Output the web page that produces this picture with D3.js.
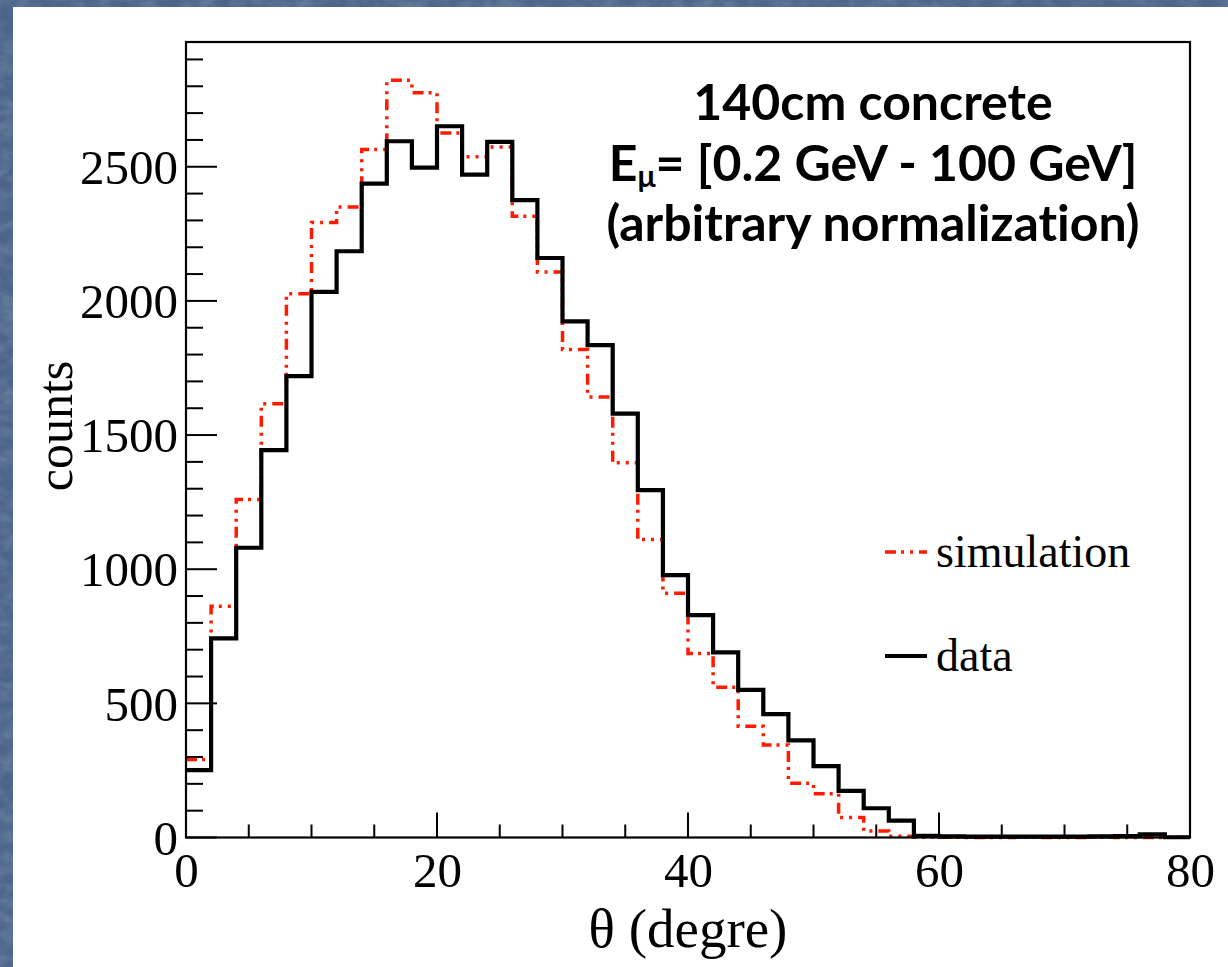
<!DOCTYPE html>
<html>
<head>
<meta charset="utf-8">
<script src="https://cdn.jsdelivr.net/npm/d3@7"></script>
<style>
  html, body { margin: 0; padding: 0; background: #4e6790; }
  svg { display: block; }
</style>
</head>
<body>
<svg id="chart" width="1228" height="967"></svg>
<script>
// Angular distribution of muons behind 140 cm of concrete, 2-degree bins from 0 to 80
const binEdgesStart = 0;
const binWidth = 2;
const dataCounts = [251, 742, 1080, 1444, 1720, 2034, 2185, 2437, 2595, 2497,
                    2651, 2471, 2593, 2376, 2160, 1924, 1835, 1580, 1295, 978,
                    829, 690, 550, 460, 362, 266, 174, 109, 63, 6,
                    4, 3, 3, 3, 3, 3, 4, 5, 12, 1];
const simCounts  = [291, 862, 1260, 1617, 2027, 2292, 2350, 2564, 2822, 2776,
                    2626, 2537, 2574, 2316, 2108, 1819, 1642, 1397, 1111, 910,
                    686, 560, 415, 345, 202, 163, 75, 24, 5, 1,
                    1, 0, 0, 1, 0, 0, 1, 0, 0, 1];
const xTickValues = [0, 20, 40, 60, 80];
const yTickValues = [0, 500, 1000, 1500, 2000, 2500];
const titleLines = ["140cm concrete", "E", "(arbitrary normalization)"];
const legendLabels = ["simulation", "data"];

const svg = d3.select("#chart");
const W = 1228, H = 967;

// slide backdrop with a soft mottled texture
const defs = svg.append("defs");
const f = defs.append("filter").attr("id", "mottle")
  .attr("x", 0).attr("y", 0).attr("width", "100%").attr("height", "100%");
f.append("feTurbulence").attr("type", "fractalNoise")
  .attr("baseFrequency", "0.06 0.09").attr("numOctaves", 3).attr("seed", 11);
f.append("feColorMatrix").attr("type", "matrix")
  .attr("values", "0 0 0 0 0.40  0 0 0 0 0.50  0 0 0 0 0.66  0 0 0 0.9 -0.3");
svg.append("rect").attr("width", W).attr("height", H).attr("fill", "#4c6589");
svg.append("rect").attr("width", W).attr("height", H).attr("filter", "url(#mottle)").attr("opacity", 0.55);

// white slide panel
svg.append("rect").attr("x", 13).attr("y", 7).attr("width", W - 13).attr("height", H - 7).attr("fill", "#ffffff");

// plot frame
const frameLeft = 186, frameRight = 1190, frameTop = 42, frameBottom = 837.5;
const x = d3.scaleLinear().domain([0, 80]).range([frameLeft, frameRight]);
const y = d3.scaleLinear().domain([0, 2965]).range([frameBottom, frameTop]);

const serif = "'Liberation Serif', 'Times New Roman', serif";

// y axis: majors every 500, minors every 100
const yAxis = d3.axisLeft(y).tickValues(yTickValues).tickSize(0).tickPadding(8).tickFormat(d3.format("d"));
const gy = svg.append("g").attr("transform", `translate(${frameLeft},0)`).call(yAxis);
gy.select(".domain").remove();
gy.selectAll("text").attr("font-family", serif).attr("font-size", 49).attr("fill", "#000").attr("dy", "0.34em");

const yMinor = d3.range(0, 2965, 100);
svg.append("g").selectAll("line").data(yMinor).join("line")
  .attr("x1", frameLeft).attr("x2", d => frameLeft + (d % 500 === 0 ? 31 : 17))
  .attr("y1", d => y(d)).attr("y2", d => y(d))
  .attr("stroke", "#000").attr("stroke-width", 2);

// x axis: majors every 20, minors every 5
const xAxis = d3.axisBottom(x).tickValues(xTickValues).tickSize(0).tickPadding(14).tickFormat(d3.format("d"));
const gx = svg.append("g").attr("transform", `translate(0,${frameBottom})`).call(xAxis);
gx.select(".domain").remove();
gx.selectAll("text").attr("font-family", serif).attr("font-size", 49).attr("fill", "#000").attr("dy", "0.72em");

const xMinor = d3.range(0, 80.01, 5);
svg.append("g").selectAll("line").data(xMinor).join("line")
  .attr("x1", d => x(d)).attr("x2", d => x(d))
  .attr("y1", frameBottom).attr("y2", d => frameBottom - (d % 20 === 0 ? 25 : 13))
  .attr("stroke", "#000").attr("stroke-width", 2);

// step outlines of the two histograms
function stepPoints(counts) {
  const pts = [];
  counts.forEach((c, i) => {
    const x0 = binEdgesStart + i * binWidth;
    pts.push([x0, c], [x0 + binWidth, c]);
  });
  return pts;
}
const stepLine = d3.line().x(d => x(d[0])).y(d => y(d[1]));

const plot = svg.append("g");
plot.append("path").attr("d", stepLine(stepPoints(simCounts)))
  .attr("fill", "none").attr("stroke", "#ff1a00").attr("stroke-width", 3.5)
  .attr("stroke-dasharray", "11,5,3,6,3,6");
plot.append("path").attr("d", stepLine(stepPoints(dataCounts)))
  .attr("fill", "none").attr("stroke", "#000").attr("stroke-width", 4.2);

// frame box
svg.append("rect").attr("x", frameLeft).attr("y", frameTop)
  .attr("width", frameRight - frameLeft).attr("height", frameBottom - frameTop)
  .attr("fill", "none").attr("stroke", "#000").attr("stroke-width", 2.2);

// axis titles
svg.append("text").attr("x", (frameLeft + frameRight) / 2).attr("y", 947).attr("text-anchor", "middle")
  .attr("font-family", serif).attr("font-size", 55).text("θ (degre)");
svg.append("text").attr("transform", "translate(72,426) rotate(-90)").attr("text-anchor", "middle")
  .attr("font-family", serif).attr("font-size", 50).text("counts");

// annotation block
const sans = "Lato, 'Open Sans', sans-serif";
const cx = 873;
const ann = svg.append("g").attr("font-family", sans).attr("font-weight", 700).attr("font-size", 50)
  .attr("text-anchor", "middle").attr("fill", "#000")
  .style("font-variant-ligatures", "none");
ann.append("text").attr("x", cx).attr("y", 120).text(titleLines[0]);
const l2 = ann.append("text").attr("x", cx).attr("y", 181);
l2.append("tspan").text(titleLines[1]);
l2.append("tspan").attr("font-size", 30).attr("dy", 6).text("μ");
l2.append("tspan").attr("dy", -6).text("= [0.2 GeV - 100 GeV]");
ann.append("text").attr("x", cx).attr("y", 241).text(titleLines[2]);

// legend
const leg = svg.append("g");
leg.append("line").attr("x1", 885).attr("x2", 927).attr("y1", 552).attr("y2", 552)
  .attr("stroke", "#ff1a00").attr("stroke-width", 3.5).attr("stroke-dasharray", "11,5,3,6,3,6");
leg.append("text").attr("x", 936).attr("y", 567).attr("font-family", serif).attr("font-size", 46).text(legendLabels[0]);
leg.append("line").attr("x1", 885).attr("x2", 927).attr("y1", 656).attr("y2", 656)
  .attr("stroke", "#000").attr("stroke-width", 4.2);
leg.append("text").attr("x", 936).attr("y", 671).attr("font-family", serif).attr("font-size", 46).text(legendLabels[1]);
</script>
</body>
</html>
